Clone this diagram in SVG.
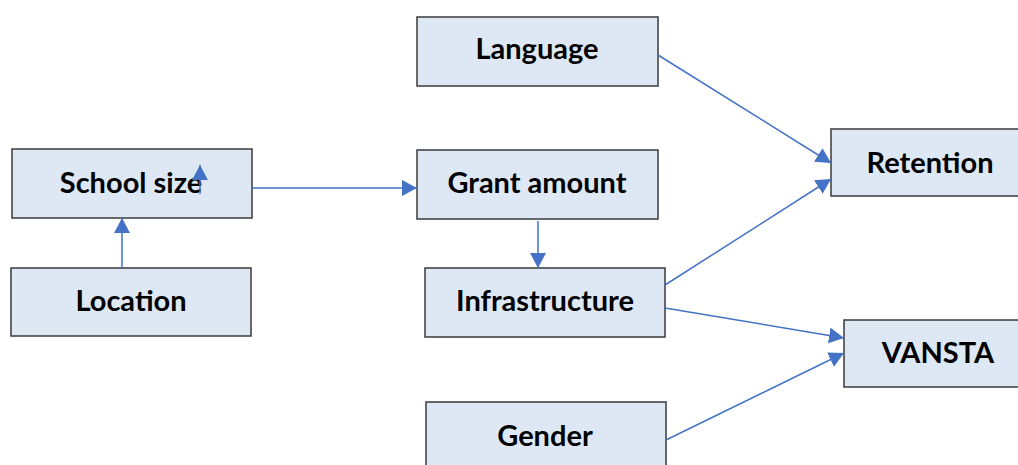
<svg xmlns="http://www.w3.org/2000/svg" width="1018" height="465" viewBox="0 0 1018 465">
<style>
.box{fill:#dde8f4;stroke:#3a3a3a;stroke-width:1.5}
.lbl{font-family:Lato,"Open Sans",sans-serif;font-weight:bold;font-size:29px;fill:#000;text-anchor:middle}
.c{stroke:#4472c4;stroke-width:1.5;fill:none;marker-end:url(#ah)}
</style>
<defs>
<marker id="ah" markerWidth="16" markerHeight="16" refX="15" refY="8" orient="auto" markerUnits="userSpaceOnUse" viewBox="0 0 16 16">
<path d="M0,0 L15,8 L0,16 Z" fill="#4472c4"/>
</marker>
</defs>
<rect width="1018" height="465" fill="#fff"/>
<g id="school-size"><rect class="box" x="12" y="149" width="240" height="69"/><text class="lbl" x="131" y="193">School size</text></g>
<g id="location"><rect class="box" x="11" y="268" width="240" height="68"/><text class="lbl" x="131" y="311">Location</text></g>
<g id="language"><rect class="box" x="417" y="17" width="241" height="69"/><text class="lbl" x="537" y="59">Language</text></g>
<g id="grant-amount"><rect class="box" x="417" y="150" width="241" height="69"/><text class="lbl" x="537" y="193">Grant amount</text></g>
<g id="infrastructure"><rect class="box" x="425" y="268" width="240" height="69"/><text class="lbl" x="545" y="311">Infrastructure</text></g>
<g id="gender"><rect class="box" x="426" y="402" width="240" height="80"/><text class="lbl" x="545" y="446">Gender</text></g>
<g id="retention"><rect class="box" x="831" y="129" width="200" height="67"/><text class="lbl" x="930" y="173">Retention</text></g>
<g id="vansta"><rect class="box" x="844" y="320" width="200" height="67"/><text class="lbl" x="938" y="363">VANSTA</text></g>
<g id="connectors">
<path class="c" d="M200,194 L200,165"/>
<path class="c" d="M122,268 L122,218"/>
<path class="c" d="M252,188 L417,188"/>
<path class="c" d="M538,221 L538,268"/>
<path class="c" d="M658,55 L831,163"/>
<path class="c" d="M665,285 L831,179"/>
<path class="c" d="M665,308 L844,338"/>
<path class="c" d="M666,440 L844,353"/>
</g>
</svg>
